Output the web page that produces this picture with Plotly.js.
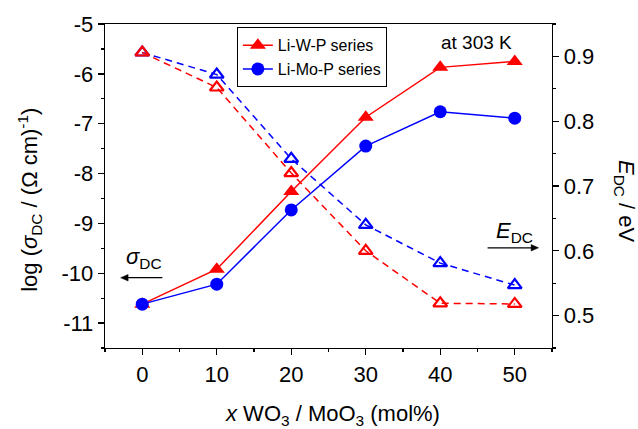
<!DOCTYPE html>
<html>
<head>
<meta charset="utf-8">
<script src="https://cdn.plot.ly/plotly-3.0.1.min.js"></script>
<style>html,body{margin:0;padding:0;background:#fff;}#chart{width:638px;height:429px;}</style>
</head>
<body>
<div id="chart"></div>
<script>
// x: WO3 / MoO3 content (mol%)
const xMol = [0, 10, 20, 30, 40, 50];
// log(sigma_DC) (left axis)
const sigmaLiWP  = [-10.62, -9.92, -8.36, -6.87, -5.87, -5.75];
const sigmaLiMoP = [-10.62, -10.22, -8.73, -7.45, -6.76, -6.89];
// E_DC / eV (right axis)
const eLiWP  = [0.906, 0.852, 0.720, 0.600, 0.519, 0.518];
const eLiMoP = [0.906, 0.872, 0.742, 0.640, 0.581, 0.547];
const seriesNames = ['Li-W-P series', 'Li-Mo-P series'];
const leftTicks = [-11, -10, -9, -8, -7, -6, -5];
const rightTicks = [0.5, 0.6, 0.7, 0.8, 0.9];
const xTicks = [0, 10, 20, 30, 40, 50];

const RED = '#ff0000', BLUE = '#0000ff';
const FONT = 'Liberation Sans, Arial, sans-serif';

const traces = [
  {x: xMol, y: eLiMoP, yaxis: 'y2', mode: 'lines+markers', showlegend: false,
   line: {color: BLUE, width: 1.5, dash: '7px,5px'},
   marker: {symbol: 'triangle-up-open', size: 12, color: BLUE, line: {width: 2.2, color: BLUE}}},
  {x: xMol, y: eLiWP, yaxis: 'y2', mode: 'lines+markers', showlegend: false,
   line: {color: RED, width: 1.5, dash: '7px,5px'},
   marker: {symbol: 'triangle-up-open', size: 12, color: RED, line: {width: 2.2, color: RED}}},
  {x: xMol, y: sigmaLiWP, yaxis: 'y', mode: 'lines+markers', name: seriesNames[0],
   line: {color: RED, width: 1.5},
   marker: {symbol: 'triangle-up', size: 14, color: RED}},
  {x: xMol, y: sigmaLiMoP, yaxis: 'y', mode: 'lines+markers', name: seriesNames[1],
   line: {color: BLUE, width: 1.5},
   marker: {symbol: 'circle', size: 13, color: BLUE}}
];

const axisCommon = {
  showline: true, linecolor: '#000', linewidth: 1.3, showgrid: false, zeroline: false,
  ticks: 'outside', ticklen: 6, tickwidth: 1.3, tickcolor: '#000',
  tickfont: {family: FONT, size: 22, color: '#000'}
};

const arrowLine = {type: 'line', xref: 'x', yref: 'y', line: {color: '#000', width: 1.3}};
const arrowHead = {type: 'path', xref: 'x', yref: 'y', fillcolor: '#000', line: {color: '#000', width: 0.5}};

const layout = {
  width: 638, height: 429,
  margin: {l: 105, r: 86, t: 24, b: 81},
  paper_bgcolor: '#fff', plot_bgcolor: '#fff',
  font: {family: FONT, color: '#000'},
  xaxis: Object.assign({}, axisCommon, {
    range: [-5, 55], tickvals: xTicks, ticktext: xTicks.map(String),
    mirror: true,
    minor: {dtick: 5, tick0: 0, ticks: 'outside', ticklen: 3, tickwidth: 1.2, tickcolor: '#000'}
  }),
  yaxis: Object.assign({}, axisCommon, {
    range: [-11.5, -5], tickvals: leftTicks, ticktext: leftTicks.map(String),
    minor: {dtick: 0.5, tick0: 0, ticks: 'outside', ticklen: 3, tickwidth: 1.2, tickcolor: '#000'}
  }),
  yaxis2: Object.assign({}, axisCommon, {
    range: [0.45, 0.95], overlaying: 'y', side: 'right', anchor: 'x',
    tickvals: rightTicks, ticktext: rightTicks.map(v => v.toFixed(1)),
    minor: {dtick: 0.05, tick0: 0, ticks: 'outside', ticklen: 3, tickwidth: 1.2, tickcolor: '#000'}
  }),
  legend: {
    x: 0.295, y: 0.99, xanchor: 'left', yanchor: 'top',
    bgcolor: '#fff', bordercolor: '#000', borderwidth: 1,
    font: {family: FONT, size: 16, color: '#000'},
    tracegroupgap: 0
  },
  shapes: [
    Object.assign({}, arrowLine, {x0: 2.7, x1: -2.0, y0: -10.09, y1: -10.09}),
    Object.assign({}, arrowHead, {path: 'M -2.9,-10.09 L -1.9,-10.025 L -1.9,-10.155 Z'}),
    Object.assign({}, arrowLine, {x0: 46.35, x1: 52.3, y0: -9.49, y1: -9.49}),
    Object.assign({}, arrowHead, {path: 'M 53.2,-9.49 L 52.2,-9.425 L 52.2,-9.555 Z'})
  ],
  annotations: [
    {xref: 'x', yref: 'y', x: 44.9, y: -5.38, text: 'at 303 K', showarrow: false,
     font: {family: FONT, size: 19}},
    {xref: 'x', yref: 'y', x: 0.2, y: -9.69, text: '<i>σ</i><sub>DC</sub>', showarrow: false,
     font: {family: FONT, size: 22}},
    {xref: 'x', yref: 'y', x: 50, y: -9.17, text: '<i>E</i><sub>DC</sub>', showarrow: false,
     font: {family: FONT, size: 22}},
    {xref: 'paper', yref: 'paper', x: -0.168, y: 0.457, xanchor: 'center', yanchor: 'middle',
     text: 'log (<i>σ</i><sub>DC</sub> / (Ω cm)<sup>-1</sup>)',
     textangle: -90, showarrow: false, font: {family: FONT, size: 22}},
    {xref: 'paper', yref: 'paper', x: 0.508, y: -0.207, xanchor: 'center', yanchor: 'middle',
     text: '<i>x</i> WO<sub>3</sub> / MoO<sub>3</sub> (mol%)',
     showarrow: false, font: {family: FONT, size: 22}},
    {xref: 'paper', yref: 'paper', x: 1.163, y: 0.454, xanchor: 'center', yanchor: 'middle',
     text: '<i>E</i><sub>DC</sub> / eV',
     textangle: 90, showarrow: false, font: {family: FONT, size: 22}}
  ]
};

Plotly.newPlot('chart', traces, layout, {displayModeBar: false, staticPlot: true});
</script>
</body>
</html>
